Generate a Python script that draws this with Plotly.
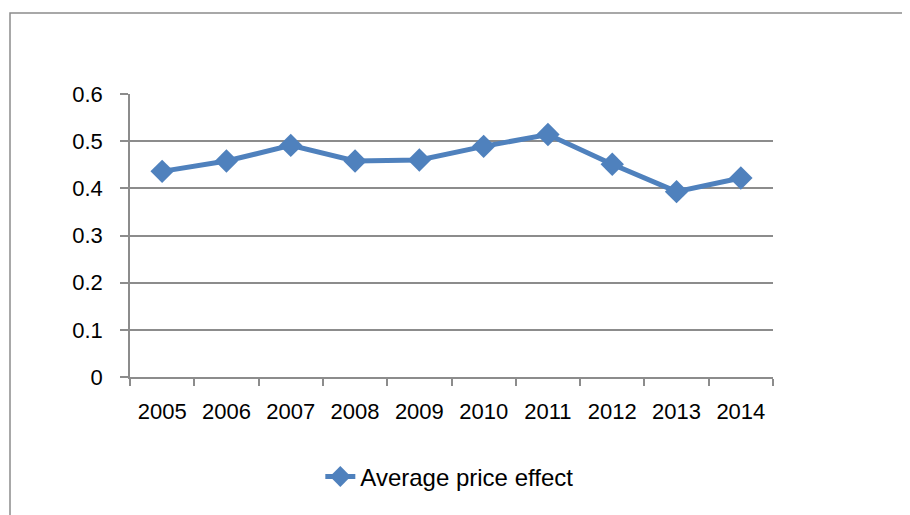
import plotly.graph_objects as go

years = ["2005", "2006", "2007", "2008", "2009", "2010", "2011", "2012", "2013", "2014"]
avg_price_effect = [0.436, 0.458, 0.491, 0.458, 0.460, 0.489, 0.514, 0.451, 0.393, 0.422]
y_ticks = [0, 0.1, 0.2, 0.3, 0.4, 0.5, 0.6]
y_tick_labels = ["0", "0.1", "0.2", "0.3", "0.4", "0.5", "0.6"]

FONT = "Liberation Sans"
GRID = "#8c8c8c"
BLUE = "#4F81BD"

fig = go.Figure()
fig.add_trace(go.Scatter(
    x=years, y=avg_price_effect, mode="lines+markers",
    name="Average price effect",
    line=dict(color=BLUE, width=5),
    marker=dict(symbol="diamond", size=18, color=BLUE),
))

fig.update_layout(
    width=910, height=515,
    margin=dict(l=122, r=145, t=86, b=146),
    paper_bgcolor="white", plot_bgcolor="white",
    font=dict(family=FONT, size=22, color="black"),
    showlegend=True,
    legend=dict(orientation="h", x=0.296, xanchor="left", y=-0.353, yanchor="middle",
                font=dict(family=FONT, size=24, color="black"), bgcolor="rgba(0,0,0,0)"),
    xaxis=dict(type="category", range=[-0.5, len(years) - 0.5], showgrid=False, showline=True,
               linecolor=GRID, linewidth=1.5,
               ticks="outside", tickson="boundaries", ticklen=7, tickcolor=GRID, tickwidth=1.5,
               tickfont=dict(family=FONT, size=22), ticklabelstandoff=14),
    yaxis=dict(range=[0, 0.6], tickvals=y_ticks, ticktext=y_tick_labels, showgrid=True,
               gridcolor=GRID, gridwidth=1.5, showline=True, linecolor=GRID, linewidth=1.5,
               ticks="outside", ticklen=8, tickcolor=GRID, tickwidth=1.5, zeroline=False,
               tickfont=dict(family=FONT, size=22), ticklabelstandoff=13),
    shapes=[dict(type="rect", xref="paper", yref="paper",
                 x0=-120/643, x1=782/643, y0=-145/283, y1=364/283,
                 line=dict(color=GRID, width=1.5), fillcolor="rgba(0,0,0,0)", layer="below")],
)

fig.write_html("out.html")
